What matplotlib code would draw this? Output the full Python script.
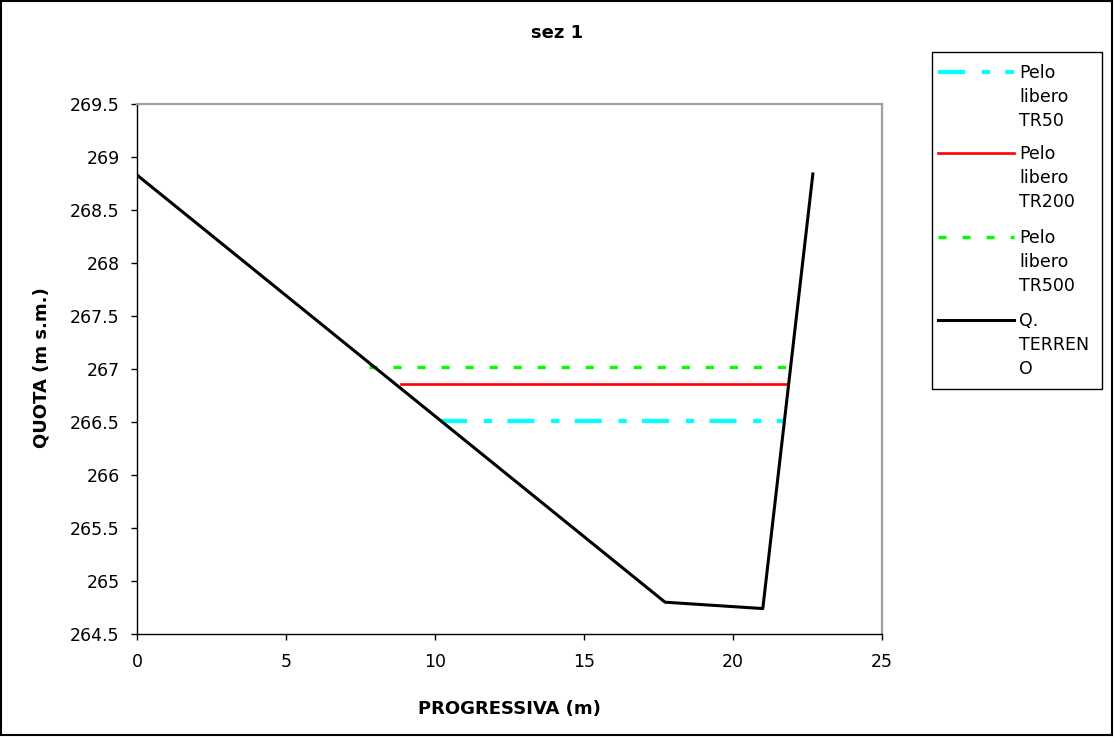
import matplotlib
matplotlib.use("Agg")
import matplotlib.pyplot as plt
from matplotlib.ticker import FuncFormatter, MultipleLocator
from matplotlib.patches import Rectangle
from matplotlib.lines import Line2D

# ---- data ----
terrain_x = [0.0, 17.72, 21.0, 22.68]
terrain_y = [268.83, 264.80, 264.74, 268.84]

tr50_x = [10.17, 21.74]
tr50_y = [266.51, 266.51]

tr200_x = [8.85, 21.83]
tr200_y = [266.86, 266.86]

tr500_x = [7.8, 22.05]
tr500_y = [267.02, 267.02]

labels = ["Pelo\nlibero\nTR50", "Pelo\nlibero\nTR200", "Pelo\nlibero\nTR500", "Q.\nTERREN\nO"]
title = "sez 1"
xlabel = "PROGRESSIVA (m)"
ylabel = "QUOTA (m s.m.)"

plt.rcParams['font.family'] = ['DejaVu Sans']
plt.rcParams['lines.scale_dashes'] = False

W, H = 1115, 737
fig = plt.figure(figsize=(W / 100, H / 100), dpi=100)
fig.patch.set_facecolor('white')

AX_L, AX_R, AX_T, AX_B = 137, 882, 104, 634
ax = fig.add_axes([AX_L / W, 1 - AX_B / H, (AX_R - AX_L) / W, (AX_B - AX_T) / H])

styles = [
    dict(color='#00ffff', lw=3.0, dashes=(19.5, 12, 6, 11)),
    dict(color='#ff0000', lw=1.9),
    dict(color='#00ff00', lw=2.4, dashes=(5.8, 11.5)),
    dict(color='black', lw=2.2),
]

ax.plot(tr50_x, tr50_y, **styles[0])
ax.plot(tr200_x, tr200_y, **styles[1])
ax.plot(tr500_x, tr500_y, **styles[2])
ax.plot(terrain_x, terrain_y, **styles[3])

ax.set_xlim(0, 25)
ax.set_ylim(264.5, 269.5)
ax.xaxis.set_major_locator(MultipleLocator(5))
ax.yaxis.set_major_locator(MultipleLocator(0.5))
ax.yaxis.set_major_formatter(FuncFormatter(lambda v, p: f"{v:g}"))
ax.xaxis.set_major_formatter(FuncFormatter(lambda v, p: f"{v:g}"))

for s in ['top', 'right']:
    ax.spines[s].set_color('#a0a0a0')
    ax.spines[s].set_linewidth(1.6)
for s in ['left', 'bottom']:
    ax.spines[s].set_color('black')
    ax.spines[s].set_linewidth(1.0)

ax.tick_params(axis='both', direction='out', length=4.5, width=1, labelsize=12.5, colors='black')
ax.tick_params(axis='x', pad=9)
ax.tick_params(axis='y', pad=8)

# title
fig.text(557 / W, 1 - 32.5 / H, title, fontsize=13, fontweight='bold', ha='center', va='center')

# axis labels
ax.set_xlabel(xlabel, fontsize=13, fontweight='bold')
ax.xaxis.label.set_va('center')
ax.xaxis.set_label_coords(0.5, -(709 - AX_B) / (AX_B - AX_T))
ax.set_ylabel(ylabel, fontsize=13, fontweight='bold')
ax.yaxis.label.set_va('center')
ax.yaxis.set_label_coords((42 - AX_L) / (AX_R - AX_L), (AX_B - 368) / (AX_B - AX_T))

# legend (manual, Excel-like: handle beside the first line of each entry)
def fx(px):
    return px / W

def fy(py):
    return 1 - py / H

fig.patches.append(Rectangle((fx(932), fy(389)), fx(1102) - fx(932), fy(52) - fy(389),
                             transform=fig.transFigure, fill=True, facecolor='white',
                             edgecolor='black', linewidth=1.0))
entry_top = [73, 154, 238, 321]
line_step = 24
for i, lab in enumerate(labels):
    yh = entry_top[i] - 1
    fig.lines.append(Line2D([fx(938), fx(1014)], [fy(yh), fy(yh)], transform=fig.transFigure,
                            **styles[i]))
    for j, part in enumerate(lab.split("\n")):
        fig.text(fx(1019), fy(entry_top[i] + j * line_step), part, fontsize=12.5,
                 ha='left', va='center')

# outer chart border
fig.patches.append(Rectangle((fx(1), fy(735)), fx(1112) - fx(1), fy(1) - fy(735),
                             transform=fig.transFigure, fill=False, edgecolor='black',
                             linewidth=1.5))

fig.savefig('out.png', dpi=100)
